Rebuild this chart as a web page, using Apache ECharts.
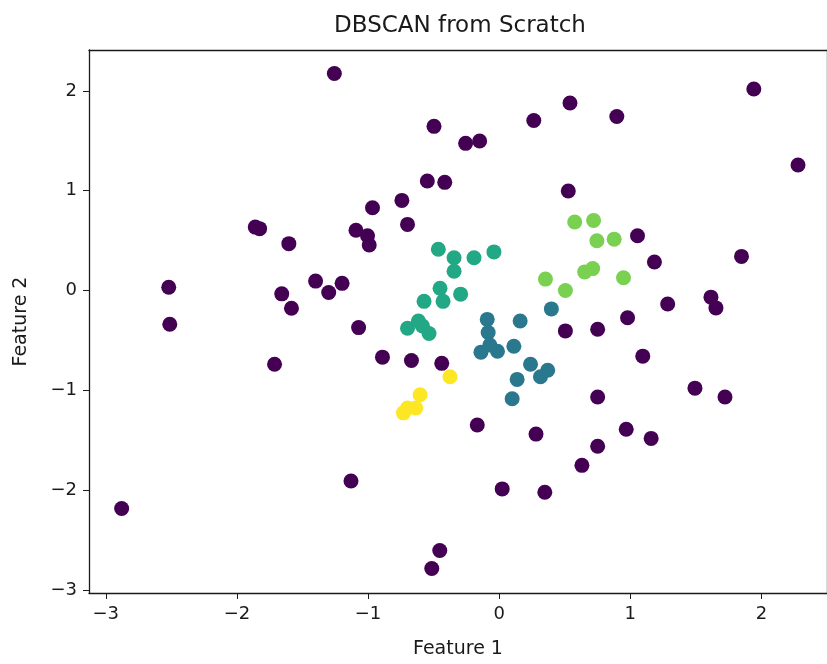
<!DOCTYPE html>
<html>
<head>
<meta charset="utf-8">
<script src="https://cdn.jsdelivr.net/npm/echarts@6/dist/echarts.min.js"></script>
<style>
  html, body { margin: 0; padding: 0; background: #fff; }
  #chart { width: 827px; height: 664px; }
</style>
</head>
<body>
<div id="chart"></div>
<script>
// cluster label -1 (noise)
const noisePoints = [
  [-1.257, 2.174], [-1.86, 0.636], [-1.827, 0.62], [-1.604, 0.47], [-2.52, 0.033],
  [-1.40, 0.095], [-1.30, -0.02], [-1.658, -0.033], [-1.584, -0.177], [-2.512, -0.338],
  [-0.497, 1.645], [-0.256, 1.475], [-0.149, 1.498], [0.264, 1.704], [0.54, 1.879],
  [-0.548, 1.097], [-0.415, 1.084], [0.527, 0.998], [-0.742, 0.903], [-0.966, 0.83],
  [-0.699, 0.663], [-1.092, 0.604], [-1.004, 0.549], [-0.991, 0.456], [-1.198, 0.072],
  [-1.072, -0.371], [-0.89, -0.667], [-0.669, -0.70], [-0.438, -0.729], [0.505, -0.404],
  [-0.167, -1.347], [0.281, -1.438], [-1.13, -1.908], [0.023, -1.987], [0.348, -2.02],
  [-0.453, -2.604], [-0.514, -2.785], [0.631, -1.751],
  [1.942, 2.02], [0.897, 1.744], [2.279, 1.258], [1.055, 0.549], [1.184, 0.286],
  [1.848, 0.342], [1.285, -0.135], [1.615, -0.066], [1.653, -0.174], [0.979, -0.273],
  [0.751, -0.387], [1.095, -0.657], [0.751, -1.067], [1.493, -0.978], [1.722, -1.067],
  [0.969, -1.389], [1.159, -1.481], [0.751, -1.56], [-1.713, -0.739], [-2.879, -2.184],
];
// dark teal cluster
const clusterA = [
  [0.398, -0.184], [-0.091, -0.289], [0.16, -0.305], [-0.084, -0.42], [-0.139, -0.617],
  [-0.013, -0.608], [-0.071, -0.545], [0.112, -0.558], [0.239, -0.739], [0.37, -0.798],
  [0.315, -0.864], [0.137, -0.89], [0.099, -1.084],
];
// green-teal cluster
const clusterB = [
  [-0.464, 0.414], [-0.344, 0.328], [-0.192, 0.328], [-0.04, 0.387], [-0.344, 0.194],
  [-0.451, 0.023], [-0.294, -0.036], [-0.573, -0.108], [-0.428, -0.108], [-0.699, -0.377],
  [-0.616, -0.305], [-0.585, -0.355], [-0.535, -0.43],
];
// light green cluster
const clusterC = [
  [0.576, 0.687], [0.72, 0.703], [0.745, 0.499], [0.877, 0.515], [0.652, 0.187],
  [0.713, 0.22], [0.948, 0.128], [0.505, 0.0], [0.353, 0.115],
];
// yellow cluster
const clusterD = [
  [-0.375, -0.864], [-0.603, -1.044], [-0.636, -1.176], [-0.699, -1.176], [-0.73, -1.225],
];

const xTicks = [-3, -2, -1, 0, 1, 2];
const yTicks = [-3, -2, -1, 0, 1, 2];
const clusterColors = ['#440154', '#2a788e', '#22a884', '#7ad151', '#fde725'];

const font = 'DejaVu Sans';
const minus = (v) => String(v).replace('-', '\u2212');

const chart = echarts.init(document.getElementById('chart'));

const axisLine = { show: true, onZero: false, lineStyle: { color: '#1a1a1a', width: 1.3 } };

const option = {
  animation: false,
  backgroundColor: '#fff',
  grid: { left: 89, top: 50, width: 740, height: 552, containLabel: false },
  graphic: [{
    type: 'text',
    x: 460,
    y: 26,
    style: {
      text: 'DBSCAN from Scratch',
      font: '23px "DejaVu Sans"',
      fill: '#1a1a1a',
      textAlign: 'center',
      textVerticalAlign: 'middle',
    },
  }],
  xAxis: [{
    type: 'value',
    min: -3.128,
    max: 2.50,
    splitLine: { show: false },
    axisLine,
    axisTick: { show: true, customValues: xTicks, length: 6, lineStyle: { color: '#1a1a1a' } },
    axisLabel: {
      customValues: xTicks, formatter: minus, color: '#1a1a1a', fontFamily: font, fontSize: 18, margin: 12,
    },
    name: 'Feature 1',
    nameLocation: 'middle',
    nameGap: 47,
    nameTextStyle: { color: '#1a1a1a', fontFamily: font, fontSize: 19 },
  }, {
    type: 'value',
    position: 'top',
    min: -3.128,
    max: 2.50,
    splitLine: { show: false },
    axisLine,
    axisTick: { show: false },
    axisLabel: { show: false },
  }],
  yAxis: [{
    type: 'value',
    min: -3.03,
    max: 2.41,
    splitLine: { show: false },
    axisLine,
    axisTick: { show: true, customValues: yTicks, length: 6, lineStyle: { color: '#1a1a1a' } },
    axisLabel: {
      customValues: yTicks, formatter: minus, color: '#1a1a1a', fontFamily: font, fontSize: 18, margin: 12,
    },
    name: 'Feature 2',
    nameLocation: 'middle',
    nameGap: 58,
    nameRotate: 90,
    nameTextStyle: { color: '#1a1a1a', fontFamily: font, fontSize: 19 },
  }, {
    type: 'value',
    position: 'right',
    min: -3.03,
    max: 2.41,
    splitLine: { show: false },
    axisLine,
    axisTick: { show: false },
    axisLabel: { show: false },
  }],
  series: [noisePoints, clusterA, clusterB, clusterC, clusterD].map((pts, i) => ({
    type: 'scatter',
    data: pts,
    symbol: 'circle',
    symbolSize: 15,
    itemStyle: { color: clusterColors[i], opacity: 1 },
  })),
};

chart.setOption(option);
</script>
</body>
</html>
